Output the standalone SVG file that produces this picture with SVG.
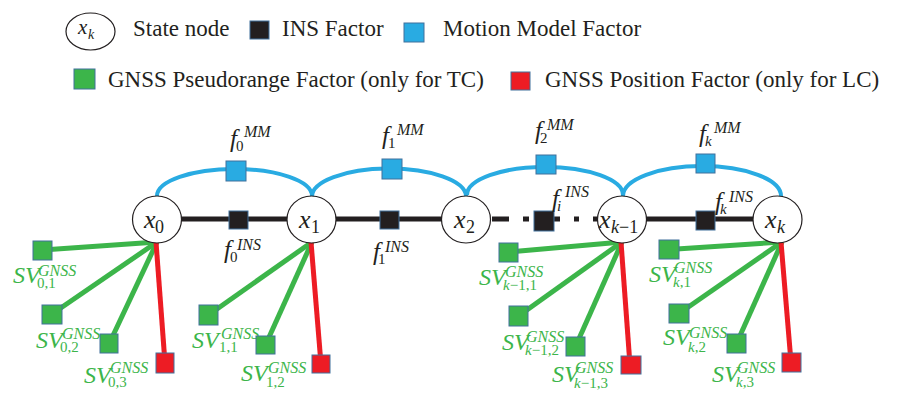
<svg xmlns="http://www.w3.org/2000/svg" width="902" height="395" viewBox="0 0 902 395">
<style>
.bg{fill:#ffffff}
.st{fill:#ffffff;stroke:#231f20;stroke-width:1.2}
.ins{fill:#231f20;stroke:#41719c;stroke-width:1}
.mm{fill:#29abe2;stroke:#41719c;stroke-width:1}
.gn{fill:#3cb54a;stroke:#41719c;stroke-width:1}
.rd{fill:#ed1c24;stroke:#41719c;stroke-width:1}
.lg{font-family:"Liberation Serif",serif;font-size:23px;fill:#231f20}
.m{font-family:"Liberation Serif",serif;font-style:italic;fill:#231f20}
.g{fill:#3cb54a}
.u{font-style:normal}
.big{font-size:24px}
.fb{font-size:25px}
.sup{font-size:16px}
.sub{font-size:15px}
.nx{font-size:26px}
.ns{font-size:18px}
.blue{fill:none;stroke:#29abe2;stroke-width:4}
.blk{fill:none;stroke:#231f20;stroke-width:5}
.gl{stroke:#3cb54a;stroke-width:5}
.rl{stroke:#ed1c24;stroke-width:5}
</style>
<rect class="bg" x="0" y="0" width="902" height="395"/>

<g id="legend">
  <ellipse class="st" cx="90.5" cy="31.5" rx="24.5" ry="18.5"/>
  <text class="m"><tspan x="78" y="34" font-size="21">x</tspan><tspan x="88" y="39" font-size="14">k</tspan></text>
  <text class="lg" x="133" y="36">State node</text>
  <rect class="ins" x="250" y="21" width="19" height="18"/>
  <text class="lg" x="282" y="36">INS Factor</text>
  <rect class="mm" x="404" y="23" width="20" height="19"/>
  <text class="lg" x="443" y="36">Motion Model Factor</text>
  <rect class="gn" x="74" y="69" width="21" height="20"/>
  <text class="lg" x="108" y="87">GNSS Pseudorange Factor (only for TC)</text>
  <rect class="rd" x="511" y="72" width="19" height="18"/>
  <text class="lg" x="545" y="87">GNSS Position Factor (only for LC)</text>
</g>

<g id="connectors">
  <path class="blue" d="M157,196 A77.5,27 0 0 1 312,196"/>
  <path class="blue" d="M312,197 A77,28 0 0 1 466,196"/>
  <path class="blue" d="M467,195 A78,28 0 0 1 623,195"/>
  <path class="blue" d="M623,196 A79,30 0 0 1 781,196"/>
  <path class="blk" d="M157,219 H466 M622,219 H778"/>
  <path class="blk" d="M492,219 H509 M523,219 H529 M554,219 H560 M574,219 H579 M593,219 H598"/>
  <g class="gl">
    <line x1="157" y1="242" x2="42.5" y2="250"/>
    <line x1="157" y1="242" x2="52" y2="314"/>
    <line x1="157" y1="242" x2="109" y2="344"/>
    <line x1="312" y1="242" x2="208.5" y2="315"/>
    <line x1="312" y1="242" x2="265.5" y2="345"/>
    <line x1="622" y1="242" x2="508.5" y2="252"/>
    <line x1="622" y1="242" x2="518.5" y2="316"/>
    <line x1="622" y1="242" x2="575.5" y2="346.5"/>
    <line x1="782" y1="242" x2="669" y2="249.5"/>
    <line x1="782" y1="242" x2="679" y2="313.5"/>
    <line x1="782" y1="242" x2="736.5" y2="343.5"/>
  </g>
  <g class="rl">
    <line x1="156" y1="242" x2="165" y2="363"/>
    <line x1="311" y1="242" x2="321" y2="364"/>
    <line x1="621" y1="242" x2="630" y2="365"/>
    <line x1="781" y1="242" x2="791" y2="362"/>
  </g>
</g>

<g id="x0">
  <ellipse class="st" cx="157" cy="219.5" rx="24.5" ry="23.5"/>
  <text class="m"><tspan class="nx" x="144" y="228">x</tspan><tspan class="ns u" x="155" y="233">0</tspan></text>
</g>
<g id="x1">
  <ellipse class="st" cx="311.5" cy="219.5" rx="24.5" ry="23.5"/>
  <text class="m"><tspan class="nx" x="299" y="228">x</tspan><tspan class="ns u" x="311" y="233">1</tspan></text>
</g>
<g id="x2">
  <ellipse class="st" cx="466" cy="219.5" rx="24.5" ry="23.5"/>
  <text class="m"><tspan class="nx" x="454" y="228">x</tspan><tspan class="ns u" x="466" y="233">2</tspan></text>
</g>
<g id="xk-1">
  <ellipse class="st" cx="622" cy="219.5" rx="24.5" ry="23.5"/>
  <text class="m"><tspan class="nx" x="599" y="228">x</tspan><tspan class="ns" x="611" y="233">k<tspan class="u">−1</tspan></tspan></text>
</g>
<g id="xk">
  <ellipse class="st" cx="777.5" cy="219.5" rx="24.5" ry="23.5"/>
  <text class="m"><tspan class="nx" x="765" y="228">x</tspan><tspan class="ns" x="777" y="233">k</tspan></text>
</g>

<g id="f0MM">
  <rect class="mm" x="226" y="161" width="20" height="20"/>
  <text class="m"><tspan class="fb" x="230" y="147">f</tspan><tspan class="sub u" x="236" y="151">0</tspan><tspan class="sup" x="244" y="137">MM</tspan></text>
</g>
<g id="f1MM">
  <rect class="mm" x="382" y="159" width="20" height="20"/>
  <text class="m"><tspan class="fb" x="382" y="144">f</tspan><tspan class="sub u" x="388" y="148">1</tspan><tspan class="sup" x="397" y="135">MM</tspan></text>
</g>
<g id="f2MM">
  <rect class="mm" x="536" y="155" width="20" height="19"/>
  <text class="m"><tspan class="fb" x="535" y="139">f</tspan><tspan class="sub u" x="540" y="143">2</tspan><tspan class="sup" x="547" y="130">MM</tspan></text>
</g>
<g id="fkMM">
  <rect class="mm" x="696" y="154" width="19" height="19"/>
  <text class="m"><tspan class="fb" x="699" y="142">f</tspan><tspan class="sub" x="705" y="146">k</tspan><tspan class="sup" x="714" y="133">MM</tspan></text>
</g>

<g id="f0INS">
  <rect class="ins" x="229" y="211" width="19" height="18"/>
  <text class="m"><tspan class="fb" x="224" y="258">f</tspan><tspan class="sub u" x="230" y="262">0</tspan><tspan class="sup" x="237" y="250">INS</tspan></text>
</g>
<g id="f1INS">
  <rect class="ins" x="380" y="211" width="19" height="18"/>
  <text class="m"><tspan class="fb" x="373" y="260">f</tspan><tspan class="sub u" x="378" y="264">1</tspan><tspan class="sup" x="385" y="252">INS</tspan></text>
</g>
<g id="fiINS">
  <rect class="ins" x="534" y="211" width="20" height="20"/>
  <text class="m"><tspan class="fb" x="552" y="207">f</tspan><tspan class="sub" x="557" y="211">i</tspan><tspan class="sup" x="565" y="197">INS</tspan></text>
</g>
<g id="fkINS">
  <rect class="ins" x="696" y="211" width="19" height="19"/>
  <text class="m"><tspan class="fb" x="715" y="210">f</tspan><tspan class="sub" x="720" y="214">k</tspan><tspan class="sup" x="729" y="202">INS</tspan></text>
</g>

<g id="SV01">
  <rect class="gn" x="33" y="241" width="19" height="19"/>
  <text class="m g"><tspan class="big" x="13" y="283">SV</tspan><tspan class="sup" x="38" y="276">GNSS</tspan><tspan class="sub u" x="37" y="288">0,1</tspan></text>
</g>
<g id="SV02">
  <rect class="gn" x="42" y="305" width="20" height="19"/>
  <text class="m g"><tspan class="big" x="36" y="348">SV</tspan><tspan class="sup" x="62" y="339">GNSS</tspan><tspan class="sub u" x="60" y="352">0,2</tspan></text>
</g>
<g id="SV03">
  <rect class="gn" x="100" y="334" width="18" height="19"/>
  <text class="m g"><tspan class="big" x="84" y="383">SV</tspan><tspan class="sup" x="110" y="373">GNSS</tspan><tspan class="sub u" x="108" y="387">0,3</tspan></text>
</g>
<g id="R0">
  <rect class="rd" x="156" y="353" width="18" height="20"/>
</g>
<g id="SV11">
  <rect class="gn" x="199" y="305" width="19" height="20"/>
  <text class="m g"><tspan class="big" x="192" y="348">SV</tspan><tspan class="sup" x="221" y="339">GNSS</tspan><tspan class="sub u" x="219" y="352">1,1</tspan></text>
</g>
<g id="SV12">
  <rect class="gn" x="256" y="336" width="19" height="18"/>
  <text class="m g"><tspan class="big" x="241" y="381">SV</tspan><tspan class="sup" x="268" y="373">GNSS</tspan><tspan class="sub u" x="266" y="387">1,2</tspan></text>
</g>
<g id="R1">
  <rect class="rd" x="312" y="355" width="18" height="18"/>
</g>
<g id="SVk-1,1">
  <rect class="gn" x="499" y="243" width="19" height="19"/>
  <text class="m g"><tspan class="big" x="479" y="285">SV</tspan><tspan class="sup" x="505" y="277">GNSS</tspan><tspan class="sub" x="503" y="290">k<tspan class="u">−1,1</tspan></tspan></text>
</g>
<g id="SVk-1,2">
  <rect class="gn" x="509" y="306" width="19" height="20"/>
  <text class="m g"><tspan class="big" x="502" y="350">SV</tspan><tspan class="sup" x="526" y="342">GNSS</tspan><tspan class="sub" x="525" y="355">k<tspan class="u">−1,2</tspan></tspan></text>
</g>
<g id="SVk-1,3">
  <rect class="gn" x="566" y="337" width="19" height="19"/>
  <text class="m g"><tspan class="big" x="552" y="382">SV</tspan><tspan class="sup" x="575" y="373">GNSS</tspan><tspan class="sub" x="574" y="388">k<tspan class="u">−1,3</tspan></tspan></text>
</g>
<g id="Rk-1">
  <rect class="rd" x="621" y="356" width="20" height="18"/>
</g>
<g id="SVk,1">
  <rect class="gn" x="659" y="240" width="20" height="19"/>
  <text class="m g"><tspan class="big" x="649" y="282">SV</tspan><tspan class="sup" x="674" y="273">GNSS</tspan><tspan class="sub" x="673" y="287">k<tspan class="u">,1</tspan></tspan></text>
</g>
<g id="SVk,2">
  <rect class="gn" x="669" y="304" width="20" height="19"/>
  <text class="m g"><tspan class="big" x="663" y="345">SV</tspan><tspan class="sup" x="689" y="338">GNSS</tspan><tspan class="sub" x="688" y="352">k<tspan class="u">,2</tspan></tspan></text>
</g>
<g id="SVk,3">
  <rect class="gn" x="727" y="334" width="19" height="19"/>
  <text class="m g"><tspan class="big" x="712" y="382">SV</tspan><tspan class="sup" x="737" y="373">GNSS</tspan><tspan class="sub" x="736" y="387">k<tspan class="u">,3</tspan></tspan></text>
</g>
<g id="Rk">
  <rect class="rd" x="782" y="353" width="19" height="19"/>
</g>
</svg>
